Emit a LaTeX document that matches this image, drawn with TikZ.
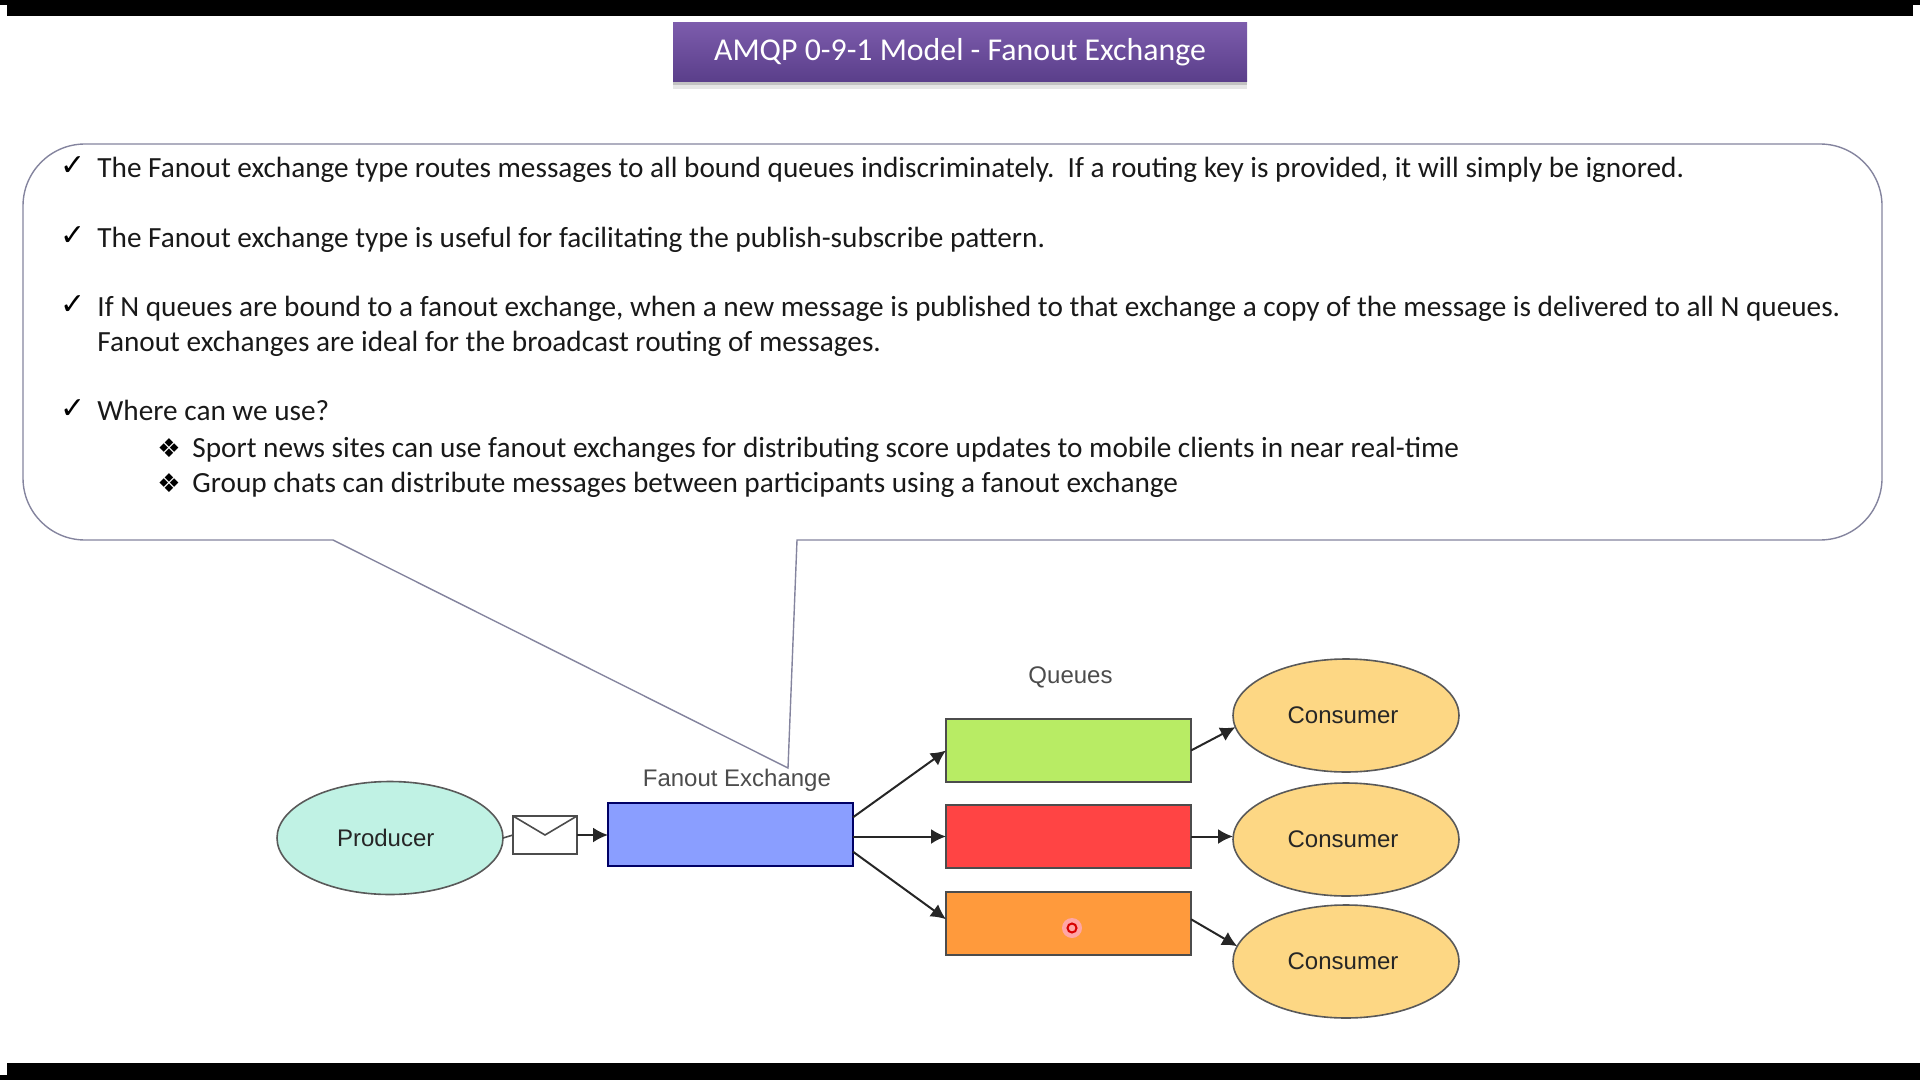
\documentclass[tikz,border=0pt]{standalone}
\usepackage{fontspec}
\setmainfont{Carlito}
\newfontfamily\labelfont{Liberation Sans}
\newfontfamily\symfont{DejaVu Sans}
\usetikzlibrary{shapes.geometric,arrows.meta,positioning,shadows}
\definecolor{titletop}{RGB}{124,92,172}
\definecolor{titlebottom}{RGB}{90,62,138}
\definecolor{calloutgrey}{RGB}{132,132,158}
\definecolor{producerfill}{RGB}{192,242,228}
\definecolor{consumerfill}{RGB}{253,215,132}
\definecolor{exchangefill}{RGB}{138,158,255}
\definecolor{queuegreen}{RGB}{184,236,100}
\definecolor{queuered}{RGB}{255,68,68}
\definecolor{queueorange}{RGB}{255,154,60}

\begin{document}
\begin{tikzpicture}[
        x=0.5pt, y=-0.5pt,
        bodyline/.style={anchor=base west, inner sep=0pt, font=\fontsize{14.63}{16}\selectfont, text=black!90},
        checkmark/.style={anchor=base west, inner sep=0pt, font=\symfont\fontsize{15}{17}\selectfont},
        subbullet/.style={anchor=base west, inner sep=0pt, font=\symfont\fontsize{13}{15}\selectfont},
        actor/.style={ellipse, draw=black!65, line width=0.8pt, fill=#1, minimum width=113pt, minimum height=56.5pt,
            inner sep=0pt, outer sep=0pt, font=\labelfont\fontsize{12}{14}\selectfont, text=black!85},
        store/.style={rectangle, draw=black!70, line width=1pt, fill=#1, minimum width=122.5pt, minimum height=31.5pt,
            inner sep=0pt, outer sep=0pt},
        caption/.style={inner sep=0pt, font=\labelfont\fontsize{12}{14}\selectfont, text=black!70},
        link/.style={-{Latex[length=7.5pt,width=7.5pt]}, line width=1pt, black!85}
    ]
        \useasboundingbox (0,0) rectangle (1920,1080);
        \fill[black] (0,0) rectangle (1920,16);
        \fill[black] (0,1063) rectangle (1920,1080);
        \fill[white] (0,5) rectangle (7,16);
        \fill[white] (1913,5) rectangle (1920,16);
        \fill[white] (0,1063) rectangle (7,1075);

        % title
        \node[rectangle, top color=titletop, bottom color=titlebottom, text=white, minimum width=287pt, minimum height=29.5pt,
            inner sep=0pt, font=\fontsize{15.9}{18}\selectfont,
            drop shadow={shadow xshift=0pt, shadow yshift=-3.5pt, opacity=0.2},
            drop shadow={shadow xshift=0pt, shadow yshift=-1.5pt, opacity=0.35}] (title) at (960,52.5) {\raisebox{-1pt}{AMQP 0-9-1 Model - Fanout Exchange}};

        % speech bubble
        \draw[calloutgrey, line width=0.7pt] (333,540) [rounded corners=31pt] -- (23,540) -- (23,144) -- (1882,144) -- (1882,540) [sharp corners] -- (797,540) -- (788,768) -- cycle;

        \node[checkmark] (checkA) at (60,176) {✓};
        \node[bodyline] (lineA) at (97,178) {The Fanout exchange type routes messages to all bound queues indiscriminately.\ \ If a routing key is provided, it will simply be ignored.};
        \node[checkmark] (checkB) at (60,245.5) {✓};
        \node[bodyline] (lineB) at (97,247.5) {The Fanout exchange type is useful for facilitating the publish-subscribe pattern.};
        \node[checkmark] (checkC) at (60,315) {✓};
        \node[bodyline] (lineC) at (97,317) {If N queues are bound to a fanout exchange, when a new message is published to that exchange a copy of the message is delivered to all N queues.};
        \node[bodyline] (lineD) at (97,351.5) {Fanout exchanges are ideal for the broadcast routing of messages.};
        \node[checkmark] (checkD) at (60,418) {✓};
        \node[bodyline] (lineE) at (97,420) {Where can we use?};
        \node[subbullet] (bulletA) at (157,457) {❖};
        \node[bodyline] (lineF) at (192,457) {Sport news sites can use fanout exchanges for distributing score updates to mobile clients in near real-time};
        \node[subbullet] (bulletB) at (157,492) {❖};
        \node[bodyline] (lineG) at (192,492) {Group chats can distribute messages between participants using a fanout exchange};

        % diagram
        \node[actor=producerfill] (producer) at (390,838) {Producer\kern4.3pt};
        \node[rectangle, draw=black!70, line width=0.8pt, fill=white, minimum width=32pt, minimum height=19pt, inner sep=0pt, outer sep=0pt,
            right=5pt of producer, yshift=1.5pt] (envelope) {};
        \draw[black!70, line width=0.8pt] (envelope.north west) -- (envelope.center) -- (envelope.north east);
        \node[store=exchangefill, draw=blue!40!black, right=15.5pt of envelope, yshift=0.25pt] (exchange) {};
        \node[caption, above=5.5pt of exchange, xshift=3.2pt] (exchangelabel) {Fanout Exchange};

        \node[store=queuered, right=46.5pt of exchange, yshift=-1pt] (queueB) {};
        \node[store=queuegreen, above=11.5pt of queueB] (queueA) {};
        \node[store=queueorange, below=12pt of queueB] (queueC) {};
        \node[caption, above=15.2pt of queueA, xshift=1pt] (queuelabel) {Queues};

        \node[actor=consumerfill, right=21pt of queueB, yshift=-1.5pt] (consumerB) {Consumer\kern3pt};
        \node[actor=consumerfill, above=5.5pt of consumerB] (consumerA) {Consumer\kern3pt};
        \node[actor=consumerfill, below=4.5pt of consumerB] (consumerC) {Consumer\kern3pt};

        \node[circle, fill=red!35, minimum size=10pt, inner sep=0pt] (cursorhalo) at (1072,928) {};
        \node[circle, draw=red!85!black, line width=1pt, minimum size=4.5pt, inner sep=0pt] (cursor) at (cursorhalo) {};

        \draw[black!70, line width=0.8pt] (producer.east) -- (envelope.west);
        \draw[link] (envelope.east) -- (envelope.east -| exchange.west);
        \draw[link] (exchange.8) -- (queueA.west);
        \draw[link] (exchange.east |- queueB.west) -- (queueB.west);
        \draw[link] (exchange.-8) -- (queueC.178);
        \draw[link] (queueA.east) -- (consumerA.186);
        \draw[link] (queueB.east) -- (queueB.east -| consumerB.west);
        \draw[link] (queueC.2) -- (consumerC.172);
    \end{tikzpicture}
\end{document}
